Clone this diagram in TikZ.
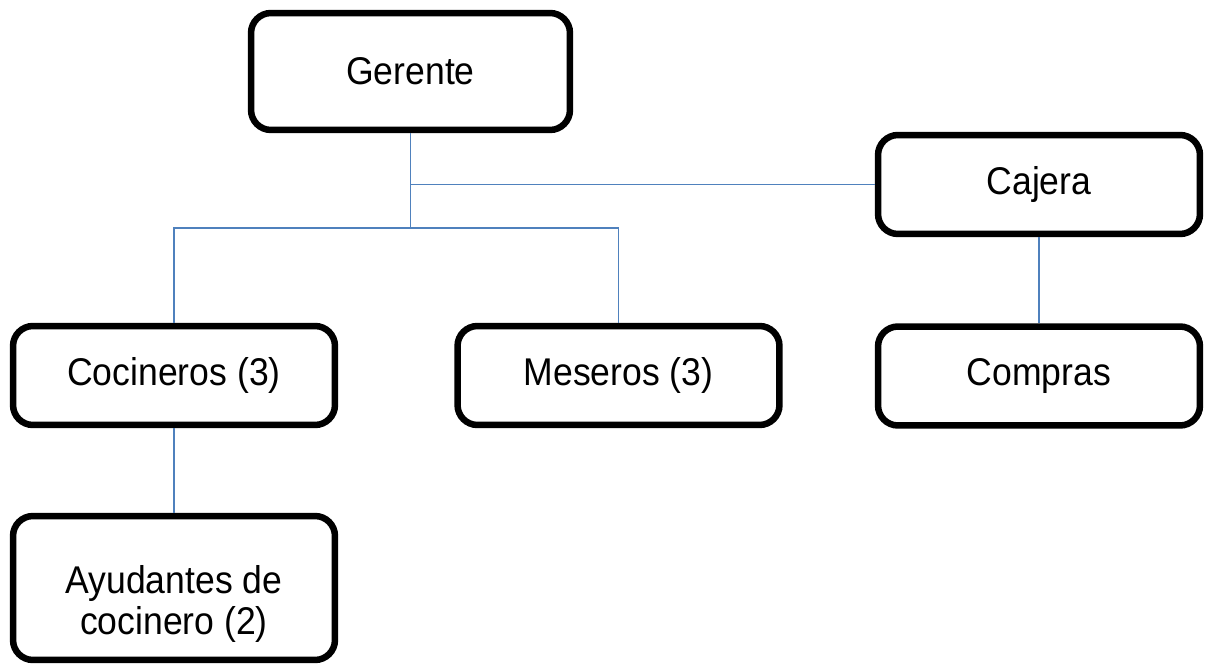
\documentclass[tikz,border=0pt]{standalone}
\usepackage{fontspec}
\setmainfont{Liberation Sans}[FakeStretch=0.92]
\definecolor{linkblue}{RGB}{79,129,189}
\tikzset{box/.style={draw, line width=0.13cm, rounded corners=0.4cm, minimum width=6.44cm, minimum height=1.98cm, align=center, font=\fontsize{22}{23.5}\selectfont},
link/.style={draw=linkblue, line width=0.8pt}}

\begin{document}
\begin{tikzpicture}[x=0.02cm, y=-0.02cm]
\useasboundingbox (0,0) rectangle (1212,668);
\node[box, minimum width=6.38cm, minimum height=2.34cm] (gerente) at (410.5,71.5) {Gerente};
\node[box] (cajera) at (1039,184.5) {Cajera};
\node[box] (cocineros) at (174,375.5) {Cocineros (3)};
\node[box] (meseros) at (618.5,375.5) {Meseros (3)};
\node[box] (compras) at (1039,376) {Compras};
\node[box, minimum height=2.88cm] (ayudantes) at (174,588) {\rule{0pt}{1.2cm}Ayudantes de\\cocinero (2)};
\coordinate (bar) at (410.5,228);
\coordinate (junction) at (gerente.south |- cajera.west);
\draw[link] (gerente.south) -- (bar);
\draw[link] (junction) -- (cajera.west);
\draw[link] (cocineros.north) |- (bar) -| (meseros.north);
\draw[link] (cajera.south) -- (compras.north);
\draw[link] (cocineros.south) -- (ayudantes.north);
\end{tikzpicture}
\end{document}
